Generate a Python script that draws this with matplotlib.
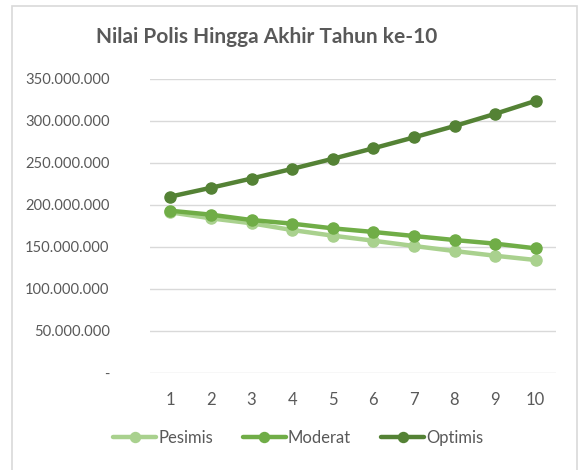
import matplotlib.pyplot as plt
from matplotlib.patches import Rectangle
from matplotlib.ticker import FuncFormatter

# values (rupiah)
tahun = [1, 2, 3, 4, 5, 6, 7, 8, 9, 10]
pesimis = [191.3e6, 184.1e6, 178.2e6, 170.2e6, 163.5e6, 157.5e6, 151.2e6, 145.2e6, 139.6e6, 134.5e6]
moderat = [193.2e6, 188.5e6, 182.1e6, 177.8e6, 172.2e6, 167.9e6, 163.1e6, 158.3e6, 154.0e6, 148.4e6]
optimis = [210.0e6, 220.5e6, 231.5e6, 243.0e6, 255.0e6, 267.5e6, 280.5e6, 294.0e6, 308.5e6, 324.0e6]

plt.rcParams['font.family'] = ['Lato', 'DejaVu Sans']
grey = "#595959"

fig = plt.figure(figsize=(5.8, 4.7), dpi=100)
ax = fig.add_axes([150/580, 1 - 373/470, 406/580, 294/470])

# chart frame
fig.patches.append(Rectangle((12/580, -0.01), 565/580, 1 - 6/470 + 0.01,
                             transform=fig.transFigure, fill=False,
                             edgecolor="#d9d9d9", linewidth=1.2))

series = [("Pesimis", pesimis, "#a9d18e"),
          ("Moderat", moderat, "#70ad47"),
          ("Optimis", optimis, "#548235")]
for name, vals, col in series:
    ax.plot(tahun, vals, color=col, linewidth=3.2, marker="o",
            markersize=8, label=name, solid_capstyle="round")

ax.set_xlim(0.5, 10.5)
ax.set_ylim(0, 350e6)
ax.set_yticks(range(0, 350000001, 50000000))
ax.set_xticks(tahun)
ax.yaxis.set_major_formatter(FuncFormatter(
    lambda v, p: "-" if v == 0 else f"{int(v):,}".replace(",", ".")))
ax.grid(axis="y", color="#d9d9d9", linewidth=1)
ax.set_axisbelow(True)
for s in ax.spines.values():
    s.set_visible(False)
ax.tick_params(length=0, labelsize=12, colors=grey)
ax.tick_params(axis="x", pad=14)
ax.tick_params(axis="y", labelsize=10.6, pad=29)

fig.text(0.5 - 23/580, 1 - 37/470, "Nilai Polis Hingga Akhir Tahun ke-10",
         ha="center", va="center", fontsize=15, fontweight="bold", color=grey)

fig.legend(loc="center", bbox_to_anchor=(298/580, 1 - 438/470), ncol=3,
           frameon=False, fontsize=12, labelcolor=grey, handlelength=2.6,
           handletextpad=0.1, columnspacing=1.8, markerscale=0.9)

fig.savefig("out.png", dpi=100)
